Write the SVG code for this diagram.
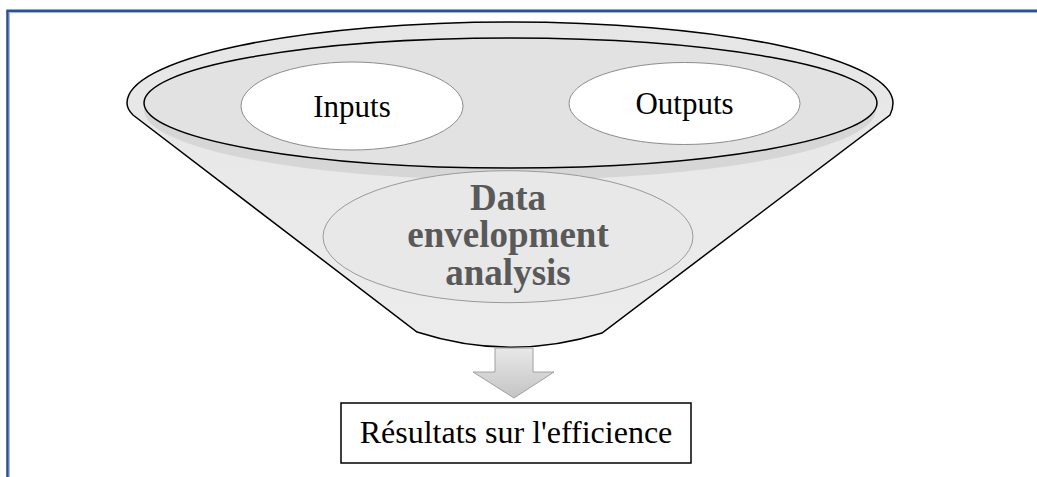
<svg xmlns="http://www.w3.org/2000/svg" width="1037" height="477" viewBox="0 0 1037 477">
<defs>
<style>
.lbl{font-family:"Liberation Serif","Times New Roman",serif;fill:#000;text-anchor:middle}
.dea{font-family:"Liberation Serif","Times New Roman",serif;font-weight:bold;fill:#595959;text-anchor:middle;font-size:37px}
.oval{fill:#fff;stroke:#8c8c8c;stroke-width:1}
</style>
<linearGradient id="arrowGrad" x1="0" y1="0" x2="0" y2="1">
<stop offset="0" stop-color="#e8e8e8"/>
<stop offset="1" stop-color="#c4c4c4"/>
</linearGradient>
<linearGradient id="coneGrad" x1="0" y1="0" x2="0" y2="1">
<stop offset="0" stop-color="#e6e6e6"/>
<stop offset="1" stop-color="#ececec"/>
</linearGradient>
</defs>
<rect width="1037" height="477" fill="#fff"/>
<g id="frame" fill="none">
<path d="M7.5,477 V10.8 H1037" stroke="#2f5090" stroke-width="2.6"/>
<path d="M9.3,477 V12.6 H1037" stroke="#8aa6d6" stroke-width="0.9"/>
</g>
<g id="funnel">
<path d="M133,115 C128,110 127,106 127,103 A383,81 0 0 1 893,103 C893,107 892,111 890,115 L602,333 Q510,362 417,332 Z" fill="url(#coneGrad)" stroke="#000" stroke-width="1.5"/>
<ellipse cx="510" cy="110" rx="366" ry="70" fill="#d6d6d6"/>
<ellipse cx="510.5" cy="103" rx="366.5" ry="65" fill="#e2e2e2" stroke="#000" stroke-width="1.5"/>
</g>
<g id="inputs">
<ellipse class="oval" cx="352" cy="106" rx="111" ry="44"/>
<text class="lbl" x="352" y="117" font-size="31">Inputs</text>
</g>
<g id="outputs">
<ellipse class="oval" cx="684.5" cy="103.5" rx="115.5" ry="41"/>
<text class="lbl" x="684.5" y="114" font-size="31">Outputs</text>
</g>
<g id="dea">
<ellipse cx="508" cy="236.7" rx="185" ry="66" fill="#e8e8e8" stroke="#9a9a9a" stroke-width="1"/>
<text class="dea" x="508" y="210">Data</text>
<text class="dea" x="508" y="247">envelopment</text>
<text class="dea" x="508" y="285">analysis</text>
</g>
<g id="connectors">
<path d="M495,348 H533 V372 H554 L514,398 L473,372 H495 Z" fill="url(#arrowGrad)" stroke="#a0a0a0" stroke-width="1"/>
</g>
<g id="result">
<rect x="341" y="403" width="350" height="60" fill="#fff" stroke="#000" stroke-width="1.5"/>
<text class="lbl" x="516" y="443" font-size="32">Résultats sur l'efficience</text>
</g>
</svg>
